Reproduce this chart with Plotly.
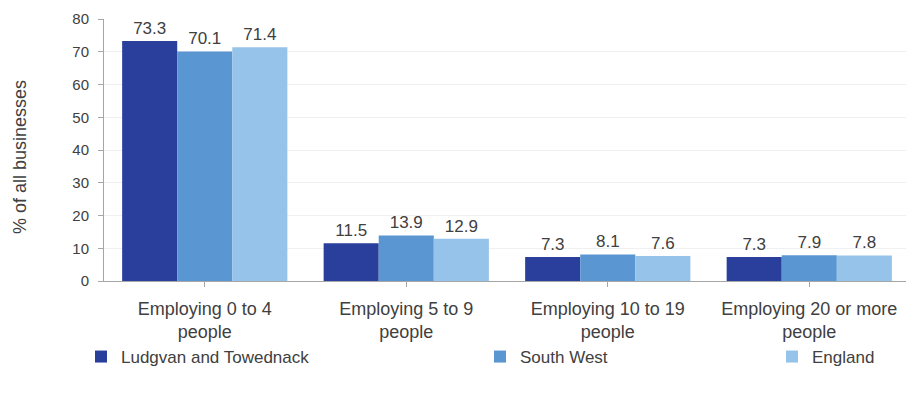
import plotly.graph_objects as go

categories = ["Employing 0 to 4<br>people", "Employing 5 to 9<br>people",
              "Employing 10 to 19<br>people", "Employing 20 or more<br>people"]
series_names = ["Ludgvan and Towednack", "South West", "England"]
ludgvan = [73.3, 11.5, 7.3, 7.3]
south_west = [70.1, 13.9, 8.1, 7.9]
england = [71.4, 12.9, 7.6, 7.8]
colors = ["#2a3f9c", "#5a96d2", "#96c3ea"]
y_ticks = [0, 10, 20, 30, 40, 50, 60, 70, 80]

W, H = 906, 398
ml, mr, mt, mb = 104, 0, 19, 117
font = "Liberation Sans, Arial, sans-serif"
txtcol = "#404040"

fig = go.Figure()
legends = ["legend", "legend2", "legend3"]
for i, (name, vals) in enumerate(zip(series_names, [ludgvan, south_west, england])):
    fig.add_trace(go.Bar(
        x=list(range(len(categories))), y=vals, name=name,
        marker=dict(color=colors[i], line=dict(width=0)),
        text=[f"{v:.1f}" for v in vals], textposition="outside",
        textfont=dict(family=font, size=17, color=txtcol),
        cliponaxis=False, legend=legends[i],
    ))

pw = W - ml - mr
ph = H - mt - mb
def px_x(p):
    return (p - ml) / pw
def px_y(p):
    return (H - mb - p) / ph

leg_common = dict(orientation="h", font=dict(family=font, size=17, color=txtcol),
                  bgcolor="rgba(0,0,0,0)", yanchor="middle", xanchor="left",
                  itemwidth=30, tracegroupgap=0)

fig.update_layout(
    width=W, height=H,
    margin=dict(l=ml, r=mr, t=mt, b=mb, pad=0),
    paper_bgcolor="white", plot_bgcolor="white",
    barmode="group", bargap=0.18, bargroupgap=0,
    showlegend=True,
    legend=dict(x=px_x(81), y=px_y(357), **leg_common),
    legend2=dict(x=px_x(480), y=px_y(357), **leg_common),
    legend3=dict(x=px_x(772), y=px_y(357), **leg_common),
    xaxis=dict(
        range=[-0.5, 3.48], tickvals=list(range(len(categories))), ticktext=categories,
        showline=True, linecolor="#a6a6a6", linewidth=1,
        ticks="outside", ticklen=5, tickcolor="#a6a6a6",
        tickson="boundaries", showgrid=False, ticklabelstandoff=6,
        tickfont=dict(family=font, size=18, color=txtcol),
    ),
    yaxis=dict(
        range=[0, 80], tickvals=y_ticks, showline=True, linecolor="#a6a6a6", linewidth=1,
        ticks="outside", ticklen=5, tickcolor="#a6a6a6", ticklabelstandoff=6,
        showgrid=True, gridcolor="#f0f0f0", zeroline=False,
        tickfont=dict(family=font, size=15, color=txtcol),
    ),
    annotations=[dict(
        text="% of all businesses", textangle=-90, xref="paper", yref="paper",
        x=px_x(20), y=px_y(157), xanchor="center", yanchor="middle", showarrow=False,
        font=dict(family=font, size=18, color=txtcol),
    )],
)

fig.write_html("out.html")
